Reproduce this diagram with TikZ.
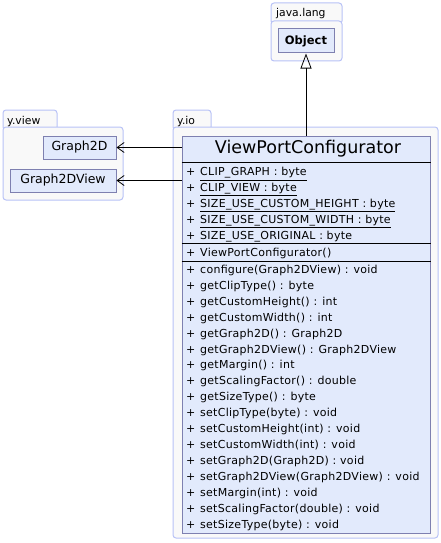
\documentclass[tikz,border=0pt]{standalone}
\usepackage{fontspec}
\setmainfont{DejaVu Sans}
\newfontfamily\memberfont[LetterSpace=2.5]{DejaVu Sans}
\usetikzlibrary{arrows.meta}

\definecolor{pkgline}{HTML}{B8C2F6}
\definecolor{pkgfill}{HTML}{F9F9F9}
\definecolor{clsline}{HTML}{7E80B0}
\definecolor{clsfill}{HTML}{E2EAFC}

\tikzset{
  pkgbox/.style={draw=pkgline,fill=pkgfill,line width=1pt,rounded corners=3pt},
  pkgname/.style={font=\fontsize{10.8}{12}\selectfont,anchor=base west,inner sep=0pt},
  clsbox/.style={draw=clsline,fill=clsfill,line width=1pt,inner sep=0pt},
  member/.style={font=\memberfont\fontsize{11}{12}\selectfont,anchor=base west,inner sep=0pt},
}

\begin{document}
\begin{tikzpicture}[x=1pt,y=-1pt]
  \useasboundingbox (0,0) rectangle (441,543);
  % packages
  \draw[pkgbox] (271,3) rectangle (342,24);
  \draw[pkgbox] (271,21) rectangle (342,61);
  \node[pkgname] (lbllang) at (276,17){java.lang};
  \draw[pkgbox] (3,110) rectangle (57,130);
  \draw[pkgbox] (3,127) rectangle (123,200);
  \node[pkgname] (lblview) at (7,124){y.view};
  \draw[pkgbox] (173,110) rectangle (211,130);
  \draw[pkgbox] (173,127) rectangle (438,538);
  \node[pkgname] (lblio) at (177,124){y.io};
  % classes
  \node[clsbox,minimum width=56,minimum height=24,font=\fontsize{11.5}{13}\selectfont\bfseries] (obj) at (306,41){Object};
  \node[clsbox,minimum width=73,minimum height=23,font=\fontsize{12.5}{14}\selectfont] (g2d) at (79.5,147.5){Graph2D};
  \node[clsbox,minimum width=106,minimum height=23,font=\fontsize{12.5}{14}\selectfont] (g2dv) at (63,180.5){Graph2DView};
  \node[clsbox,minimum width=248,minimum height=397] (vpc) at (306,334.5){};
  \node[font=\fontsize{17.5}{19}\selectfont] (vpcname) at (308,149){ViewPortConfigurator};
  \draw[line width=0.8pt] (vpc.west |- 0,162) -- (vpc.east |- 0,162);
  \draw[line width=0.8pt] (vpc.west |- 0,243.5) -- (vpc.east |- 0,243.5);
  \draw[line width=0.8pt] (vpc.west |- 0,261) -- (vpc.east |- 0,261);
  % attributes
  \foreach \txt [count=\i from 0] in {CLIP\_GRAPH : byte,CLIP\_VIEW : byte,SIZE\_USE\_CUSTOM\_HEIGHT : byte,SIZE\_USE\_CUSTOM\_WIDTH : byte,SIZE\_USE\_ORIGINAL : byte}{
    \node[member] (attp\i) at (186,175.8+15.9*\i){+};
    \node[member] (att\i) at (200,175.8+15.9*\i){\underline{\txt}};
  }
  % constructor
  \node[member] (ctorp) at (186,256.8){+};
  \node[member] (ctor) at (200,256.8){ViewPortConfigurator()};
  % methods
  \foreach \txt [count=\i from 0] in {configure(Graph2DView) : void,getClipType() : byte,getCustomHeight() : int,getCustomWidth() : int,getGraph2D() : Graph2D,getGraph2DView() : Graph2DView,getMargin() : int,getScalingFactor() : double,getSizeType() : byte,setClipType(byte) : void,setCustomHeight(int) : void,setCustomWidth(int) : void,setGraph2D(Graph2D) : void,setGraph2DView(Graph2DView) : void,setMargin(int) : void,setScalingFactor(double) : void,setSizeType(byte) : void}{
    \node[member] (mthp\i) at (186,273.1+15.98*\i){+};
    \node[member] (mth\i) at (200,273.1+15.98*\i){\txt};
  }
  % connectors
  \draw[line width=0.8pt,-{Triangle[open,length=15,width=11]}] (vpc.north -| obj) -- (obj.south);
  \draw[line width=0.8pt,-{Straight Barb[length=7,width=10]}] (g2d.east -| vpc.west) -- (g2d.east);
  \draw[line width=0.8pt,-{Straight Barb[length=7,width=10]}] (g2dv.east -| vpc.west) -- (g2dv.east);
\end{tikzpicture}
\end{document}
